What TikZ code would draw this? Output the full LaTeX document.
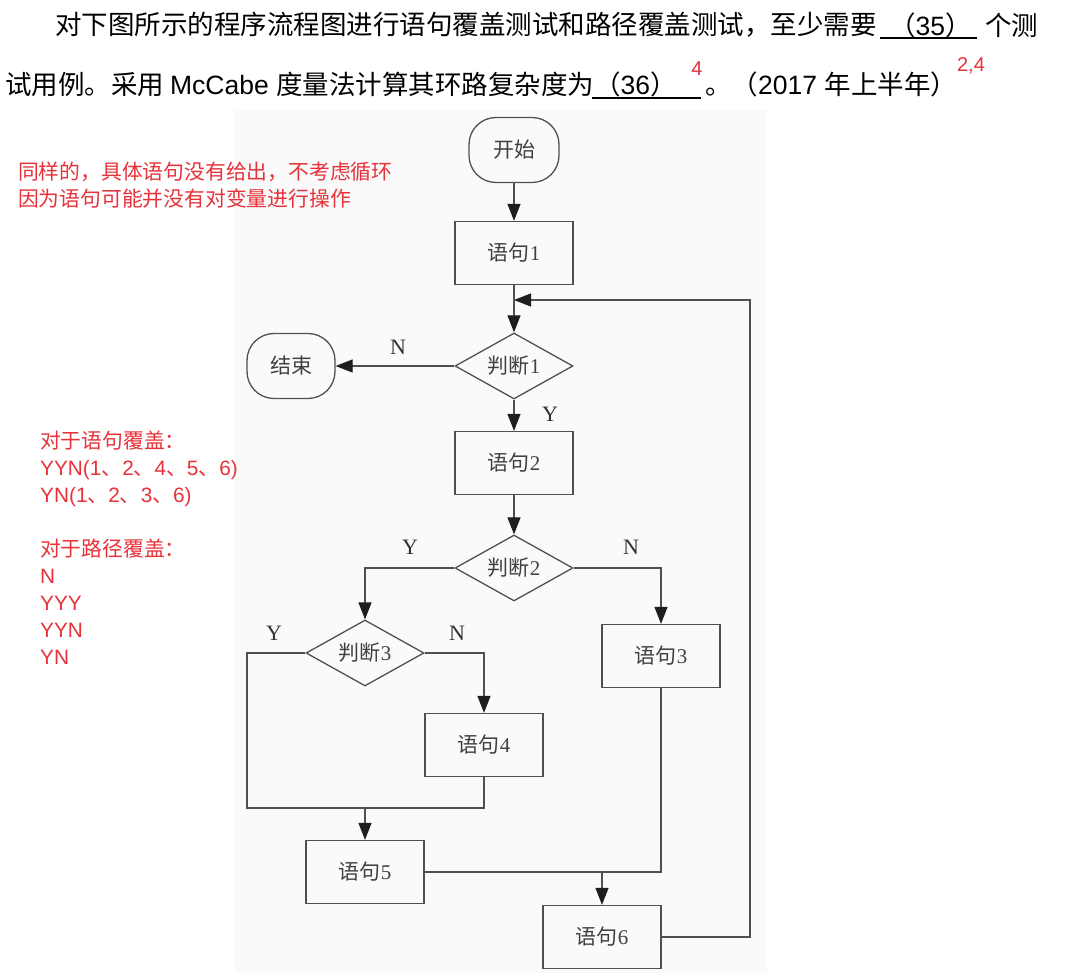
\documentclass[tikz,border=0pt]{standalone}
\usepackage{fontspec}
\setmainfont{Liberation Sans}
\newfontfamily\cjk{Noto Sans CJK SC}
\newfontfamily\tnr{Liberation Serif}
\newfontfamily\lat{Liberation Sans}
\newcommand\ju[1]{{\cjk #1}}
\usetikzlibrary{arrows.meta,shapes.geometric}
\definecolor{redtxt}{RGB}{232,50,58}
\definecolor{lncol}{RGB}{80,80,80}
\definecolor{bggray}{RGB}{250,250,250}
\definecolor{tipcol}{RGB}{30,30,30}
\begin{document}
\begin{tikzpicture}[x=1pt,y=-1pt,
 fc/.style={draw=lncol, line width=1.3pt, text=black!75, font=\tnr\fontsize{21}{24}\selectfont, inner sep=0pt},
 proc/.style={fc, rectangle, minimum width=118pt, minimum height=63pt},
 term/.style={fc, rectangle, rounded corners=27pt, minimum height=65pt},
 dec/.style={fc, diamond, minimum width=118pt, minimum height=66pt, aspect=1.8},
 conn/.style={draw=lncol, line width=1.3pt},
 arr/.style={conn, -{Triangle[length=17pt,width=13pt,color=tipcol]}},
 yn/.style={font=\tnr\fontsize{22}{24}\selectfont, text=black!80, inner sep=0pt},
 qtext/.style={font=\fontsize{26.5}{30}\selectfont, inner sep=0pt, anchor=west},
 redsmall/.style={font=\lat\fontsize{20}{22}\selectfont, text=redtxt, inner sep=0pt},
 note/.style={font=\cjk\fontsize{20.8}{27}\selectfont, text=redtxt, inner sep=0pt, anchor=west, align=left}
]
\useasboundingbox (0,0) rectangle (1080,973);
\fill[white] (0,0) rectangle (1080,973);
\fill[bggray] (235,110) rectangle (767,973);

% question text
\node[qtext] (q1) at (55,25) {\cjk 对下图所示的程序流程图进行语句覆盖测试和路径覆盖测试，至少需要};
\node[qtext] (q35) at (889,25) {\cjk （\lat 35\cjk ）};
\draw[line width=1.3pt] (880,38) -- (977,38);
\node[qtext] (q2) at (985,25) {\cjk 个测};
\node[qtext] (q3) at (5,84) {\cjk 试用例。采用 \lat McCabe \cjk 度量法计算其环路复杂度为};
\node[qtext] (q36) at (594,84) {\cjk （\lat 36\cjk ）};
\draw[line width=1.3pt] (592,98) -- (701,98);
\node[redsmall] (a36) at (697,69) {4};
\node[qtext] (q4) at (705,84) {\cjk 。（\lat 2017 \cjk 年上半年）};
\node[redsmall] (a35) at (971,66) {2,4};

% notes
\node[note] (n1) at (18,185) {同样的，具体语句没有给出，不考虑循环\\因为语句可能并没有对变量进行操作};
\node[note] (n2) at (40,548) {对于语句覆盖：\\{\lat YYN(1}、{\lat 2}、{\lat 4}、{\lat 5}、{\lat 6)}\\{\lat YN(1}、{\lat 2}、{\lat 3}、{\lat 6)}\\[27pt]对于路径覆盖：\\{\lat N}\\{\lat YYY}\\{\lat YYN}\\{\lat YN}};

% flowchart
\node[term, minimum width=90pt] (start) at (514,150) {\ju{开始}};
\node[proc] (s1) at (514,253) {\ju{语句}1};
\node[dec] (j1) at (514,366) {\ju{判断}1};
\node[term, minimum width=88pt] (stop) at (291,366) {\ju{结束}};
\node[proc] (s2) at (514,463) {\ju{语句}2};
\node[dec] (j2) at (514,568) {\ju{判断}2};
\node[dec] (j3) at (365,653) {\ju{判断}3};
\node[proc] (s3) at (661,656) {\ju{语句}3};
\node[proc] (s4) at (484,745) {\ju{语句}4};
\node[proc] (s5) at (365,872) {\ju{语句}5};
\node[proc] (s6) at (602,937) {\ju{语句}6};

\coordinate (m1) at (514,300);
\coordinate (lp) at (750,300);
\coordinate (jl) at (247,808);
\coordinate (jr) at (s4.south |- jl);

\draw[arr] (start) -- (s1);
\draw[arr] (s1) -- (j1);
\draw[arr] (j1.west) -- (stop.east);
\draw[arr] (j1) -- (s2);
\draw[arr] (s2) -- (j2);
\draw[arr] (j2.west) -| (j3.north);
\draw[arr] (j2.east) -| (s3.north);
\draw[arr] (j3.east) -| (s4.north);
\draw[conn] (j3.west) -| (jl) -- (jr) -- (s4.south);
\draw[arr] (s5.north |- jl) -- (s5.north);
\draw[conn] (s3.south) |- (s5.east);
\draw[arr] (s6.north |- s5.east) -- (s6.north);
\draw[arr] (s6.east) -| (lp) -- (m1);

\node[yn] (l1) at (398,347) {N};
\node[yn] (l2) at (550,414) {Y};
\node[yn] (l3) at (410,547) {Y};
\node[yn] (l4) at (631,547) {N};
\node[yn] (l5) at (274,633) {Y};
\node[yn] (l6) at (457,633) {N};
\end{tikzpicture}
\end{document}
